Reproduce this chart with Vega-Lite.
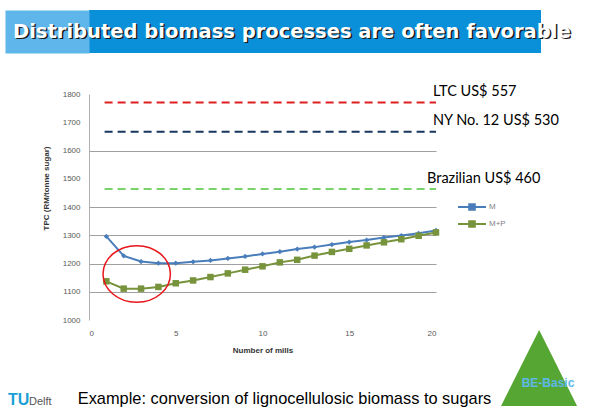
{
  "$schema": "https://vega.github.io/schema/vega-lite/v6.json",
  "padding": {"left": 6, "top": 10, "right": 0, "bottom": 0},
  "background": "white",
  "spacing": 30,
  "config": {"view": {"stroke": null}, "font": "Liberation Sans"},
  "vconcat": [
    {
      "width": 452,
      "height": 43,
      "view": {"fill": "#0a90d8"},
      "data": {"values": [{"title": "Distributed biomass processes are often favorable"}]},
      "encoding": {
        "y": {"field": "title", "type": "nominal", "axis": {"labels": false, "ticks": false, "title": null, "grid": false, "domain": true, "domainWidth": 84, "domainColor": "#5fb6ea", "domainCap": "butt", "offset": 42}},
        "text": {"field": "title"}
      },
      "layer": [
        {"mark": {"type": "text", "align": "left", "baseline": "middle", "dx": -300.5, "dy": 1.5, "fontSize": 19.5, "fontWeight": "bold", "font": "DejaVu Sans", "color": "#1a1a1a"}},
        {"mark": {"type": "text", "align": "left", "baseline": "middle", "dx": -302, "dy": 0, "fontSize": 19.5, "fontWeight": "bold", "font": "DejaVu Sans", "color": "#ffffff"}}
      ]
    },
    {
      "width": 347,
      "height": 226,
      "layer": [
        {
          "encoding": {
            "y": {"field": "tpc", "type": "quantitative", "scale": {"domain": [1000, 1800], "nice": false, "zero": false},
              "axis": {"values": [1000, 1100, 1200, 1300, 1400, 1500, 1600, 1700, 1800], "format": "d", "labelOverlap": false, "grid": true,
                "gridColor": {"condition": {"test": "datum.value == 1000 || datum.value == 1500 || datum.value >= 1700", "value": "transparent"}, "value": "#a0a0a0"},
                "gridWidth": 1,
                "domain": true, "domainColor": "#b0b0b0", "domainWidth": 1, "ticks": false,
                "labelFontSize": 8, "labelColor": "#595959", "labelPadding": 9,
                "title": "TPC (RM/tonne sugar)", "titleFontSize": 8, "titleFontWeight": "bold", "titleColor": "#333333",
                "titleX": -43, "titleY": 94, "titleBaseline": "middle", "titlePadding": 0, "minExtent": 83}}
          },
          "layer": [
            {
              "data": {"values": [
                {"ref": "LTC US$ 557", "tpc": 1770, "mills": 0.9, "end": 20},
                {"ref": "NY No. 12 US$ 530", "tpc": 1666, "mills": 0.9, "end": 20},
                {"ref": "Brazilian US$ 460", "tpc": 1464, "mills": 0.9, "end": 20}
              ]},
              "layer": [
                {
                  "mark": {"type": "rule", "strokeDash": [8, 5], "strokeWidth": 2},
                  "encoding": {
                    "x": {"field": "mills", "type": "quantitative", "scale": {"domain": [0, 20], "nice": false},
                      "axis": {"values": [0, 5, 10, 15, 20], "grid": false, "domain": false, "ticks": false, "labelFontSize": 8, "labelColor": "#595959", "labelPadding": 9, "title": "Number of mills", "titleFontSize": 8, "titleFontWeight": "bold", "titleColor": "#333333", "titlePadding": 9}},
                    "x2": {"field": "end"},
                    "stroke": {"field": "ref", "type": "nominal", "scale": {"domain": ["LTC US$ 557", "NY No. 12 US$ 530", "Brazilian US$ 460"], "range": ["#dd1f1f", "#17375e", "#7ad36a"]}, "legend": null}
                  }
                },
                {
                  "transform": [{"filter": "datum.ref != 'Brazilian US$ 460'"}],
                  "mark": {"type": "text", "align": "left", "baseline": "middle", "dx": -3, "dy": -10.5, "fontSize": 14.5, "font": "Lato", "color": "#000000"},
                  "encoding": {"x": {"field": "end", "type": "quantitative"}, "text": {"field": "ref"}}
                },
                {
                  "transform": [{"filter": "datum.ref == 'Brazilian US$ 460'"}],
                  "mark": {"type": "text", "align": "left", "baseline": "middle", "dx": -9, "dy": -10, "fontSize": 14.5, "font": "Lato", "color": "#000000"},
                  "encoding": {"x": {"field": "end", "type": "quantitative"}, "text": {"field": "ref"}}
                }
              ]
            },
            {
              "data": {"values": [
                {"mills": 1, "series": "M", "tpc": 1296}, {"mills": 2, "series": "M", "tpc": 1227}, {"mills": 3, "series": "M", "tpc": 1207}, {"mills": 4, "series": "M", "tpc": 1201},
                {"mills": 5, "series": "M", "tpc": 1201}, {"mills": 6, "series": "M", "tpc": 1206}, {"mills": 7, "series": "M", "tpc": 1211}, {"mills": 8, "series": "M", "tpc": 1218},
                {"mills": 9, "series": "M", "tpc": 1225}, {"mills": 10, "series": "M", "tpc": 1234}, {"mills": 11, "series": "M", "tpc": 1242}, {"mills": 12, "series": "M", "tpc": 1251},
                {"mills": 13, "series": "M", "tpc": 1258}, {"mills": 14, "series": "M", "tpc": 1267}, {"mills": 15, "series": "M", "tpc": 1276}, {"mills": 16, "series": "M", "tpc": 1283},
                {"mills": 17, "series": "M", "tpc": 1292}, {"mills": 18, "series": "M", "tpc": 1299}, {"mills": 19, "series": "M", "tpc": 1307}, {"mills": 20, "series": "M", "tpc": 1317},
                {"mills": 1, "series": "M+P", "tpc": 1137}, {"mills": 2, "series": "M+P", "tpc": 1111}, {"mills": 3, "series": "M+P", "tpc": 1111}, {"mills": 4, "series": "M+P", "tpc": 1117},
                {"mills": 5, "series": "M+P", "tpc": 1130}, {"mills": 6, "series": "M+P", "tpc": 1140}, {"mills": 7, "series": "M+P", "tpc": 1152}, {"mills": 8, "series": "M+P", "tpc": 1165},
                {"mills": 9, "series": "M+P", "tpc": 1178}, {"mills": 10, "series": "M+P", "tpc": 1190}, {"mills": 11, "series": "M+P", "tpc": 1204}, {"mills": 12, "series": "M+P", "tpc": 1213},
                {"mills": 13, "series": "M+P", "tpc": 1228}, {"mills": 14, "series": "M+P", "tpc": 1241}, {"mills": 15, "series": "M+P", "tpc": 1252}, {"mills": 16, "series": "M+P", "tpc": 1264},
                {"mills": 17, "series": "M+P", "tpc": 1275}, {"mills": 18, "series": "M+P", "tpc": 1286}, {"mills": 19, "series": "M+P", "tpc": 1298}, {"mills": 20, "series": "M+P", "tpc": 1310}
              ]},
              "layer": [
                {
                  "mark": {"type": "line", "strokeWidth": 2},
                  "encoding": {
                    "x": {"field": "mills", "type": "quantitative"},
                    "color": {"field": "series", "type": "nominal", "scale": {"domain": ["M", "M+P"], "range": ["#4a7ebb", "#77933c"]},
                      "legend": {"orient": "none", "legendX": 375, "legendY": 189, "padding": 0, "title": null,
                        "symbolType": "M-2,0L2,0M-0.4,-0.4L0.4,-0.4L0.4,0.4L-0.4,0.4Z", "symbolSize": 196, "symbolStrokeWidth": 2,
                        "labelFontSize": 8, "labelColor": "#7f7f7f", "labelOffset": 9, "rowPadding": 2}}
                  }
                },
                {
                  "transform": [{"filter": "datum.series == 'M'"}],
                  "mark": {"type": "point", "filled": true, "opacity": 1, "shape": "diamond", "size": 28},
                  "encoding": {"x": {"field": "mills", "type": "quantitative"}, "color": {"field": "series", "type": "nominal"}}
                },
                {
                  "transform": [{"filter": "datum.series == 'M+P'"}],
                  "mark": {"type": "point", "filled": true, "opacity": 1, "shape": "square", "size": 42},
                  "encoding": {"x": {"field": "mills", "type": "quantitative"}, "color": {"field": "series", "type": "nominal"}}
                }
              ]
            },
            {
              "data": {"values": [{"mills": 2.75, "tpc": 1163}]},
              "mark": {"type": "point", "shape": "M-1,0A1,0.84,0,1,0,1,0A1,0.84,0,1,0,-1,0Z", "size": 4543, "filled": false, "stroke": "#e8161b", "strokeWidth": 1.5, "opacity": 1},
              "encoding": {"x": {"field": "mills", "type": "quantitative"}}
            }
          ]
        },
        {
          "data": {"values": [{"caption": "Example: conversion of lignocellulosic biomass to sugars", "tu": "TU", "delft": "Delft", "logo": "BE-Basic", "tri": "▲"}]},
          "encoding": {
            "y": {"datum": 1000, "type": "quantitative", "scale": {"domain": [1000, 1800], "nice": false, "zero": false},
              "axis": {"values": [1000, 1100, 1200, 1300, 1400, 1500, 1600, 1700, 1800], "format": "d", "labelOverlap": false, "grid": true,
                "gridColor": {"condition": {"test": "datum.value == 1000 || datum.value == 1500 || datum.value >= 1700", "value": "transparent"}, "value": "#a0a0a0"},
                "gridWidth": 1,
                "domain": true, "domainColor": "#b0b0b0", "domainWidth": 1, "ticks": false,
                "labelFontSize": 8, "labelColor": "#595959", "labelPadding": 9,
                "title": "TPC (RM/tonne sugar)", "titleFontSize": 8, "titleFontWeight": "bold", "titleColor": "#333333",
                "titleX": -43, "titleY": 94, "titleBaseline": "middle", "titlePadding": 0, "minExtent": 83}}
          },
          "layer": [
            {"mark": {"type": "text", "align": "left", "baseline": "middle", "dx": -11.3, "dy": 78.7, "fontSize": 16.4, "font": "Liberation Sans", "color": "#000000"}, "encoding": {"x": {"datum": 0, "type": "quantitative"}, "text": {"field": "caption"}}},
            {"mark": {"type": "text", "align": "left", "baseline": "middle", "dx": -81, "dy": 79.7, "fontSize": 16, "fontWeight": "bold", "font": "Liberation Sans", "color": "#1a9fd6"}, "encoding": {"x": {"datum": 0, "type": "quantitative"}, "text": {"field": "tu"}}},
            {"mark": {"type": "text", "align": "left", "baseline": "middle", "dx": -60, "dy": 81.7, "fontSize": 11, "font": "Liberation Sans", "color": "#555555"}, "encoding": {"x": {"datum": 0, "type": "quantitative"}, "text": {"field": "delft"}}},
            {"mark": {"type": "text", "align": "center", "baseline": "alphabetic", "dx": 103, "dy": 86, "fontSize": 130, "font": "Liberation Sans", "color": "#55a632"}, "encoding": {"x": {"datum": 20, "type": "quantitative"}, "text": {"field": "tri"}}},
            {"mark": {"type": "text", "align": "center", "baseline": "middle", "dx": 112, "dy": 62.7, "fontSize": 12, "fontWeight": "bold", "font": "Liberation Sans", "color": "#5fb8e8"}, "encoding": {"x": {"datum": 20, "type": "quantitative"}, "text": {"field": "logo"}}}
          ]
        }
      ]
    }
  ]
}
